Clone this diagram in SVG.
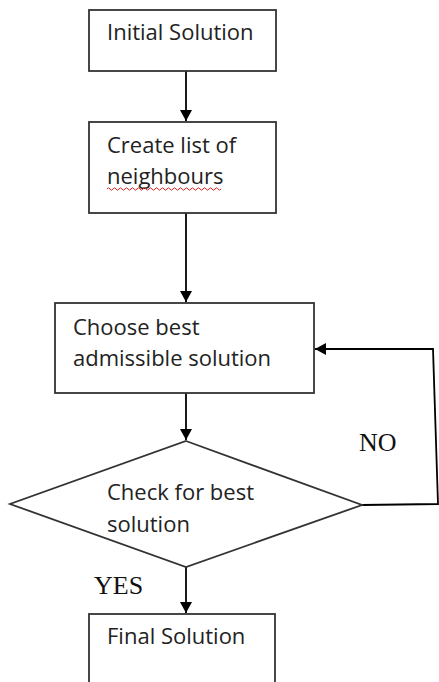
<svg xmlns="http://www.w3.org/2000/svg" width="439" height="682" viewBox="0 0 439 682">
<defs>
<marker id="ah" markerWidth="12" markerHeight="12" refX="11" refY="6" orient="auto" markerUnits="userSpaceOnUse">
<path d="M0,0 L11,6 L0,12 Z" fill="#000"/>
</marker>
<style>
.box{fill:#fff;stroke:#333;stroke-width:1.8}
.t{font-family:"Open Sans","Liberation Sans",sans-serif;font-size:22px;fill:#222}
.s{font-family:"Liberation Serif",serif;font-size:26px;fill:#111}
.c{fill:none;stroke:#000;stroke-width:1.8}
</style>
</defs>
<rect width="439" height="682" fill="#fff"/>
<g id="connectors">
<line class="c" x1="186" y1="71" x2="186" y2="121" marker-end="url(#ah)"/>
<line class="c" x1="186" y1="213" x2="186" y2="302" marker-end="url(#ah)"/>
<line class="c" x1="186" y1="393" x2="186" y2="440" marker-end="url(#ah)"/>
<line class="c" x1="186" y1="567" x2="186" y2="613" marker-end="url(#ah)"/>
<polyline class="c" points="362,505 438,504 433,349 315,349" marker-end="url(#ah)"/>
<text class="s" x="359" y="451">NO</text>
<text class="s" x="94" y="594">YES</text>
</g>
<g id="n1">
<rect class="box" x="89" y="10" width="187" height="61"/>
<text class="t" x="107" y="40">Initial Solution</text>
</g>
<g id="n2">
<rect class="box" x="89" y="122" width="187" height="91"/>
<text class="t" x="107" y="153">Create list of</text>
<text class="t" x="107" y="184">neighbours</text>
<path d="M107,189 q1.5,-2.4 3,0 t3,0 t3,0 t3,0 t3,0 t3,0 t3,0 t3,0 t3,0 t3,0 t3,0 t3,0 t3,0 t3,0 t3,0 t3,0 t3,0 t3,0 t3,0 t3,0 t3,0 t3,0 t3,0 t3,0 t3,0 t3,0 t3,0 t3,0 t3,0 t3,0 t3,0 t3,0 t3,0 t3,0 t3,0 t3,0 t3,0 t3,0" fill="none" stroke="#e02020" stroke-width="1"/>
</g>
<g id="n3">
<rect class="box" x="55" y="303" width="259" height="90"/>
<text class="t" x="73" y="335">Choose best</text>
<text class="t" x="73" y="366">admissible solution</text>
</g>
<g id="n4">
<polygon class="box" points="186,441 362,505 186,567 10,504"/>
<text class="t" x="107" y="500">Check for best</text>
<text class="t" x="107" y="532">solution</text>
</g>
<g id="n5">
<rect class="box" x="89" y="614" width="186" height="80"/>
<text class="t" x="107" y="644">Final Solution</text>
</g>
</svg>
